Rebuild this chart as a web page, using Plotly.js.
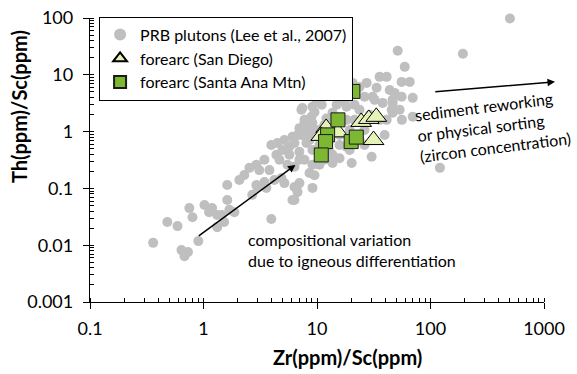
<!DOCTYPE html>
<html>
<head>
<meta charset="utf-8">
<script src="https://cdn.plot.ly/plotly-3.0.1.min.js"></script>
<style>html,body{margin:0;padding:0;background:#fff;}#chart{width:577px;height:374px;}</style>
</head>
<body>
<div id="chart"></div>
<script>
// PRB plutons (Lee et al., 2007): Zr/Sc and Th/Sc
var prbX = [0.36,0.48,0.59,0.75,0.80,0.64,0.68,0.73,0.90,1.02,1.12,1.19,1.32,1.32,1.52,1.69,1.62,1.87,1.62,2.69,
  2.98,3.58,3.96,6.08,2.54,2.92,2.92,3.44,4.21,4.86,3.96,4.48,4.39,4.96,5.71,6.08,6.73,6.59,5.16,6.33,
  9.12,6.33,6.73,7.0,8.59,6.33,9.12,7.0,8.07,6.33,7.29,7.76,9.12,8.07,20.2,13.7,18.2,15.8,12.9,13.7,
  30.3,121,193,501,51.4,59.3,41.1,35.6,65.6,55.7,69.7,55.7,69.7,27.4,33.5,43.7,46.4,48.3,30.9,37.9,
  46.4,45.5,53.5,56,46.4,41.1,23.7,18.2,18.2,18.2,17.5,14.9,13.7,17.5,12.1,11.0,9.12,7.44,7.76,8.94,
  10.5,8.07,9.12,9.12,10.5,11.6,14.3,15.8,19.4,21.4,23.7,26.2,29.1,32.2,35.6,39.4,26.2,19.4,15.8,12.9,
  11.6,21.4,26.2,22.3,19.4,9.5,5.16,4.67,3.44,3.10,2.29,2.07,3.81,5.5,7.76,10.5,9.5,11.6,7.0,5.71,
  8.59,9.5,7.0,9.9,12.1,20.6,23.7,15.8,7.29,1.45];
var prbY = [0.011,0.0256,0.0217,0.045,0.031,0.0082,0.0064,0.0076,0.0118,0.051,0.038,0.045,0.034,0.0208,0.0256,0.042,0.0625,0.038,0.115,0.077,
  0.106,0.102,0.029,0.0625,0.23,0.26,0.115,0.13,0.141,0.152,0.58,0.63,0.39,0.475,0.54,0.81,0.87,0.102,0.124,0.106,
  0.102,0.0625,0.086,0.124,0.187,0.24,0.26,0.44,0.63,0.63,0.87,1.42,0.475,0.81,0.28,0.39,0.54,0.34,0.44,0.28,
  0.36,0.23,23.4,98,26.5,13.8,9.2,9.2,7.5,7.5,3.93,4.1,1.82,7.2,5.9,5.4,3.62,4.8,4.1,3.2,
  3.2,2.42,2.42,1.61,2.14,1.61,2.42,2.73,1.61,3.93,3.34,2.96,2.14,1.61,1.7,2.96,2.73,2.6,1.61,1.82,
  1.07,1.07,0.87,1.42,0.58,0.71,1.31,0.87,1.07,1.61,0.71,1.07,1.97,3.62,1.61,0.87,0.58,0.475,0.58,0.87,
  1.31,2.96,4.1,5.4,4.4,2.2,0.71,0.32,0.32,0.21,0.172,0.141,0.21,0.26,0.32,0.26,0.17,0.32,0.32,0.39,
  0.71,1.07,1.15,3.62,4.8,7.2,6.1,5.4,2.42,0.034];

// forearc (San Diego)
var sdX = [12.05,10.9,15.3,24.5,28.6,33.3,31.5];
var sdY = [1.16,0.84,0.97,1.48,1.67,1.82,0.71];

// forearc (Santa Ana Mtn)
var saX = [20.7,15.3,12.4,11.9,10.9,20.0,22.2];
var saY = [5.1,1.61,0.875,0.667,0.388,0.667,0.80];

var xTitle = 'Zr(ppm)/Sc(ppm)';
var yTitle = 'Th(ppm)/Sc(ppm)';
var seriesNames = ['PRB plutons (Lee et al., 2007)', 'forearc (San Diego)', 'forearc (Santa Ana Mtn)'];

var FONT = 'Lato, "Open Sans", sans-serif';

var traces = [
  {x: prbX, y: prbY, type: 'scatter', mode: 'markers', name: seriesNames[0],
   marker: {color: '#bfbfbf', size: 10, line: {width: 0}}, cliponaxis: false},
  {x: sdX, y: sdY, type: 'scatter', mode: 'markers', name: seriesNames[1],
   marker: {symbol: 'triangle-up', color: '#e6f3b8', size: 18, line: {color: '#000', width: 1}}, cliponaxis: false},
  {x: saX, y: saY, type: 'scatter', mode: 'markers', name: seriesNames[2],
   marker: {symbol: 'square', color: '#7cb831', size: 14, line: {color: '#1a1a1a', width: 1}}, cliponaxis: false}
];

var axisCommon = {
  type: 'log', dtick: 1, exponentformat: 'none', showgrid: false, zeroline: false,
  showline: true, linecolor: '#000', linewidth: 1.3,
  ticks: 'outside', ticklen: 6, tickwidth: 1.3, tickcolor: '#000',
  minor: {ticks: 'inside', ticklen: 4, tickwidth: 1, tickcolor: '#000', dtick: 'D1', showgrid: false},
  tickfont: {family: FONT, size: 18, color: '#000'}
};

var layout = {
  width: 577, height: 374,
  margin: {l: 90, r: 33, t: 18, b: 72},
  paper_bgcolor: '#fff', plot_bgcolor: '#fff',
  font: {family: FONT, color: '#000'},
  xaxis: Object.assign({}, axisCommon, {range: [-1, 3], ticklabelstandoff: 4}),
  yaxis: Object.assign({}, axisCommon, {range: [-3, 2], ticklabelstandoff: 6}),
  showlegend: true,
  legend: {x: 0.02, xanchor: 'left', y: 1.005, yanchor: 'top', bgcolor: '#fff',
    bordercolor: '#000', borderwidth: 1, font: {family: FONT, size: 16, color: '#000'},
    itemsizing: 'constant', itemwidth: 30, tracegroupgap: 0},
  annotations: [
    {xref: 'paper', yref: 'paper', x: 0.567, y: -0.194, xanchor: 'center', yanchor: 'middle',
     text: '<b>' + xTitle + '</b>', showarrow: false, font: {family: FONT, size: 20, color: '#000'}},
    {xref: 'paper', yref: 'paper', x: -0.156, y: 0.687, xanchor: 'center', yanchor: 'middle', textangle: -90,
     text: '<b>' + yTitle + '</b>', showarrow: false, font: {family: FONT, size: 20, color: '#000'}},
    {xref: 'x', yref: 'y', axref: 'x', ayref: 'y', x: 0.810, y: -0.587, ax: -0.055, ay: -1.857,
     text: '', showarrow: true, arrowhead: 2, arrowsize: 1, arrowwidth: 1.5, arrowcolor: '#000', standoff: 0, startstandoff: 0},
    {xref: 'x', yref: 'y', axref: 'x', ayref: 'y', x: 3.097, y: 0.877, ax: 2.029, ay: 0.70,
     text: '', showarrow: true, arrowhead: 2, arrowsize: 1, arrowwidth: 1.5, arrowcolor: '#000', standoff: 0, startstandoff: 0},
    {xref: 'x', yref: 'y', x: 0.377, y: -2.086, xanchor: 'left', yanchor: 'middle', align: 'left',
     text: 'compositional variation<br>due to igneous differentiation', showarrow: false,
     font: {family: FONT, size: 16, color: '#000'}},
    {xref: 'x', yref: 'y', x: 2.555, y: 0.083, xanchor: 'center', yanchor: 'middle', align: 'left', textangle: -7,
     text: 'sediment reworking<br>or physical sorting<br>(zircon concentration)', showarrow: false,
     font: {family: FONT, size: 16, color: '#000'}}
  ]
};

Plotly.newPlot('chart', traces, layout, {displayModeBar: false, responsive: false});
</script>
</body>
</html>
